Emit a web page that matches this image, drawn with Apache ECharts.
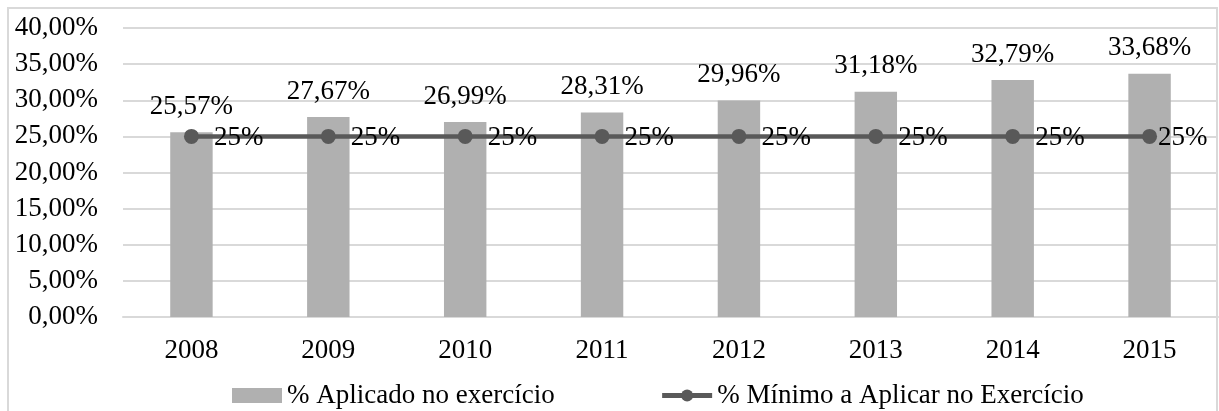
<!DOCTYPE html>
<html>
<head>
<meta charset="utf-8">
<script src="https://cdn.jsdelivr.net/npm/echarts@6/dist/echarts.min.js"></script>
<style>
  html, body { margin: 0; padding: 0; background: #fff; }
  #chart { width: 1219px; height: 411px; }
</style>
</head>
<body>
<div id="chart"></div>
<script>
// Years on the category axis
const years = ['2008', '2009', '2010', '2011', '2012', '2013', '2014', '2015'];
// Percentage applied in each fiscal year
const appliedPct = [25.57, 27.67, 26.99, 28.31, 29.96, 31.18, 32.79, 33.68];
// Minimum percentage required each year
const minimumPct = [25, 25, 25, 25, 25, 25, 25, 25];
// Series names shown in the legend
const seriesNames = ['% Aplicado no exercício', '% Mínimo a Aplicar no Exercício'];

const FONT = '"Liberation Serif", "Times New Roman", serif';
const fmtPct2 = v => v.toFixed(2).replace('.', ',') + '%';

// The last label sits closer to its marker so it stays inside the frame
const minimumData = minimumPct.map((v, i) =>
  i === minimumPct.length - 1 ? { value: v, label: { distance: 1 } } : v
);

const chart = echarts.init(document.getElementById('chart'), null, { renderer: 'canvas' });

chart.setOption({
  backgroundColor: '#ffffff',
  animation: false,
  textStyle: { fontFamily: FONT, color: '#000' },
  graphic: [{
    type: 'rect',
    shape: { x: 8, y: 8, width: 1209, height: 430 },
    style: { fill: 'none', stroke: '#d9d9d9', lineWidth: 2 },
    silent: true,
    z: -10
  }],
  grid: { left: 123, right: 1, top: 28, bottom: 94, containLabel: false },
  legend: {
    left: 227,
    top: 377,
    itemWidth: 50,
    itemHeight: 15,
    itemGap: 105,
    textStyle: { fontFamily: FONT, fontSize: 27, color: '#000' },
    data: [
      { name: seriesNames[0], icon: 'rect' },
      { name: seriesNames[1], lineStyle: { width: 5, color: '#595959' }, itemStyle: { color: '#595959' } }
    ]
  },
  xAxis: {
    type: 'category',
    data: years,
    axisLine: { show: true, lineStyle: { color: '#d9d9d9', width: 2 } },
    axisTick: { show: false },
    axisLabel: { fontFamily: FONT, fontSize: 27, color: '#000', margin: 20 }
  },
  yAxis: {
    type: 'value',
    min: 0,
    max: 40,
    interval: 5,
    axisLine: { show: false },
    axisTick: { show: false },
    splitLine: { lineStyle: { color: '#d9d9d9', width: 2 } },
    axisLabel: {
      fontFamily: FONT, fontSize: 27, color: '#000', margin: 25,
      formatter: v => fmtPct2(v)
    }
  },
  series: [
    {
      name: seriesNames[0],
      type: 'bar',
      data: appliedPct,
      barCategoryGap: '69%',
      itemStyle: { color: '#b0b0b0' },
      label: {
        show: true,
        position: 'top',
        distance: 12,
        fontFamily: FONT,
        fontSize: 27,
        color: '#000',
        formatter: p => fmtPct2(p.value)
      },
      z: 2
    },
    {
      name: seriesNames[1],
      type: 'line',
      data: minimumData,
      symbol: 'circle',
      symbolSize: 15,
      lineStyle: { color: '#595959', width: 4.5 },
      itemStyle: { color: '#595959' },
      label: {
        show: true,
        position: 'right',
        distance: 15,
        offset: [0, 2],
        fontFamily: FONT,
        fontSize: 27,
        color: '#000',
        formatter: p => p.value + '%'
      },
      z: 3
    }
  ]
});
</script>
</body>
</html>
